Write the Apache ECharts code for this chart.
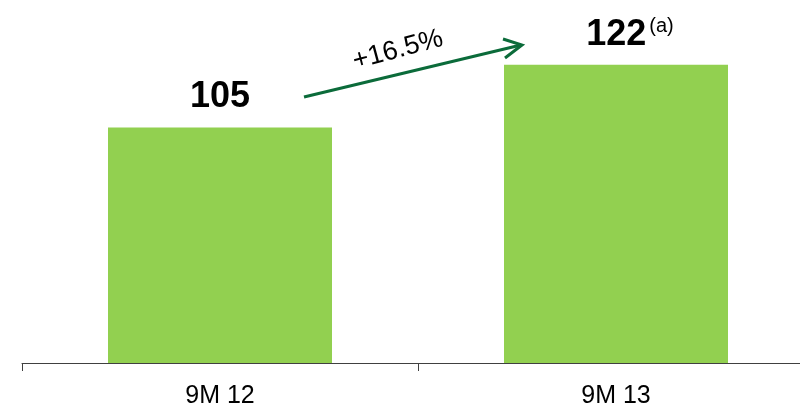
<!DOCTYPE html>
<html>
<head>
<meta charset="utf-8">
<script src="https://cdn.jsdelivr.net/npm/echarts@6/dist/echarts.min.js"></script>
<style>
html,body{margin:0;padding:0;background:#fff;overflow:hidden;width:800px;height:409px;}
#chart{width:814px;height:409px;}
</style>
</head>
<body>
<div id="chart"></div>
<script>
const categories = ['9M 12', '9M 13'];
const values = [105, 122];
const footnotes = ['', '(a)'];
const growthLabel = '+16.5%';

const chart = echarts.init(document.getElementById('chart'));
const FONT = '"Liberation Sans", Arial, sans-serif';

const data = values.map((v, i) => {
  const item = { value: v };
  if (footnotes[i]) {
    item.label = {
      formatter: '{v|{c}}{s|' + footnotes[i] + '}',
      offset: [14, 0]
    };
  }
  return item;
});

chart.setOption({
  animation: false,
  backgroundColor: '#ffffff',
  grid: { left: 22, right: 0, top: 0, height: 364, containLabel: false },
  xAxis: {
    type: 'category',
    data: categories,
    boundaryGap: true,
    axisLine: { lineStyle: { color: '#404040', width: 1 } },
    axisTick: { show: true, length: 8, lineStyle: { color: '#404040', width: 1 } },
    axisLabel: { color: '#000', fontSize: 25, fontFamily: FONT, margin: 21 }
  },
  yAxis: {
    type: 'value',
    min: 41.3,
    max: 139.5,
    show: false,
    splitLine: { show: false }
  },
  series: [{
    type: 'bar',
    data: data,
    barWidth: 224,
    itemStyle: { color: '#92D050' },
    label: {
      show: true,
      position: 'top',
      distance: 12,
      color: '#000',
      fontSize: 36,
      fontWeight: 'bold',
      fontFamily: FONT,
      rich: {
        v: { fontSize: 36, fontWeight: 'bold', fontFamily: FONT, color: '#000' },
        s: { fontSize: 20, fontWeight: 'normal', fontFamily: FONT, color: '#000', verticalAlign: 'top', padding: [0, 0, 16, 3] }
      }
    }
  }],
  graphic: [
    {
      type: 'line',
      shape: { x1: 304, y1: 97, x2: 521, y2: 45 },
      style: { stroke: '#0B6B3A', lineWidth: 3 }
    },
    {
      type: 'polyline',
      shape: { points: [[503, 39], [522, 45], [505, 58]] },
      style: { stroke: '#0B6B3A', lineWidth: 3, fill: null, lineJoin: 'miter' }
    },
    {
      type: 'text',
      x: 398,
      y: 50,
      rotation: 15 * Math.PI / 180,
      style: {
        text: growthLabel,
        fontSize: 27,
        fontFamily: FONT,
        fill: '#000',
        align: 'center',
        verticalAlign: 'middle'
      }
    }
  ]
});
</script>
</body>
</html>
